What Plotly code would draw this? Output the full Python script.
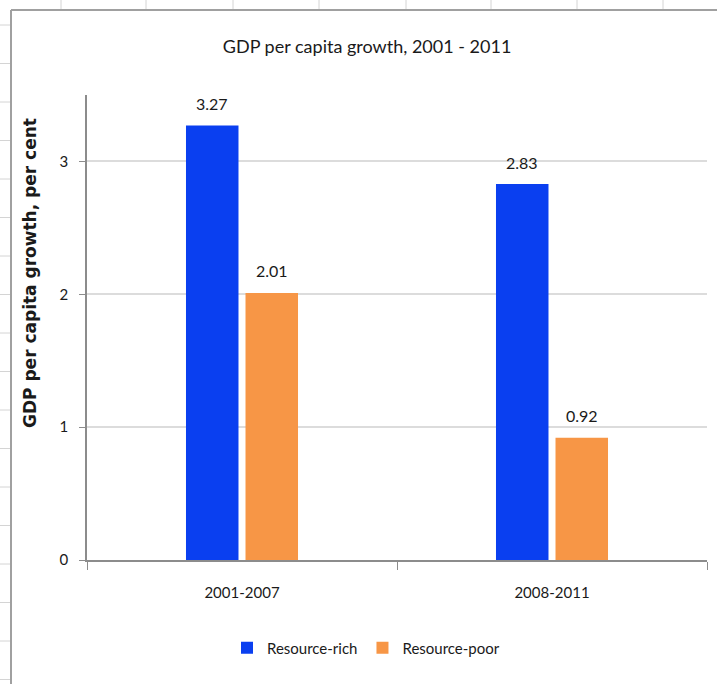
import plotly.graph_objects as go

# data
periods = ["2001-2007", "2008-2011"]
resource_rich = [3.27, 2.83]
resource_poor = [2.01, 0.92]
series_names = ["Resource-rich", "Resource-poor"]
y_ticks = [0, 1, 2, 3]

W, H = 717, 684
L, R, T, B = 87, 10, 95, 124
pw, ph = W - L - R, H - T - B


def px_x(x):
    # pixel -> paper x
    return (x - L) / pw


def px_y(y):
    # pixel -> paper y
    return (H - B - y) / ph


fig = go.Figure()
fig.add_trace(go.Bar(x=periods, y=resource_rich, name=series_names[0],
                     marker=dict(color="#0a3ff0", line=dict(width=0))))
fig.add_trace(go.Bar(x=periods, y=resource_poor, name=series_names[1],
                     marker=dict(color="#f79646", line=dict(width=0))))

# value labels above the bars
for vals, shift in [(resource_rich, -30), (resource_poor, 30)]:
    for p, v in zip(periods, vals):
        fig.add_annotation(x=p, y=v, text=f"{v:.2f}", showarrow=False,
                           xshift=shift, yshift=22, yanchor="middle",
                           font=dict(family="Lato", size=16, color="#1a1a1a"))

# y axis title, placed like the original (not centred on the axis)
fig.add_annotation(xref="paper", yref="paper", x=px_x(30), y=px_y(273),
                   text="<b>GDP per capita growth, per cent</b>", textangle=-90,
                   showarrow=False, xanchor="center", yanchor="middle",
                   font=dict(family="DejaVu Sans", size=17, color="#1a1a1a"))

# spreadsheet background: cell lines + chart frame
shapes = []
for x in [61, 146, 233, 319, 406, 491, 577, 663]:
    shapes.append(dict(type="line", xref="paper", yref="paper",
                       x0=px_x(x), x1=px_x(x), y0=px_y(0), y1=px_y(10),
                       line=dict(color="#d4d4d4", width=1)))
for k in range(18):
    y = 25 + 38.5 * k
    shapes.append(dict(type="line", xref="paper", yref="paper",
                       x0=px_x(0), x1=px_x(11), y0=px_y(y), y1=px_y(y),
                       line=dict(color="#d4d4d4", width=1)))
shapes.append(dict(type="line", xref="paper", yref="paper",
                   x0=px_x(11), x1=px_x(717), y0=px_y(10), y1=px_y(10),
                   line=dict(color="#a0a0a0", width=2)))
shapes.append(dict(type="line", xref="paper", yref="paper",
                   x0=px_x(11), x1=px_x(11), y0=px_y(10), y1=px_y(684),
                   line=dict(color="#a0a0a0", width=2)))

fig.update_layout(
    width=W, height=H,
    margin=dict(l=L, r=R, t=T, b=B),
    paper_bgcolor="white", plot_bgcolor="white",
    barmode="group", bargap=0.616, bargroupgap=0.118,
    title=dict(text="GDP per capita growth, 2001 - 2011", x=0.512, xanchor="center",
               y=1 - 47 / H, yanchor="middle",
               font=dict(family="Lato", size=18, color="#1a1a1a")),
    font=dict(family="Lato", size=15, color="#1a1a1a"),
    legend=dict(orientation="h", x=px_x(366), y=px_y(648), xanchor="center",
                yanchor="middle", font=dict(family="Lato", size=15, color="#1a1a1a"),
                itemwidth=30, bgcolor="rgba(0,0,0,0)"),
    shapes=shapes,
    xaxis=dict(showline=True, linecolor="#8c8c8c", linewidth=1.5,
               ticks="outside", tickson="boundaries", ticklen=8, tickcolor="#8c8c8c",
               ticklabelstandoff=18, tickfont=dict(family="Lato", size=15, color="#1a1a1a"),
               showgrid=False, fixedrange=True),
    yaxis=dict(range=[0, 3.5], tickvals=y_ticks, showline=True, linecolor="#8c8c8c",
               linewidth=1.5, ticks="outside", ticklen=6, tickcolor="#8c8c8c",
               ticklabelstandoff=8, showgrid=True, gridcolor="#dcdcdc", gridwidth=1.5,
               zeroline=False, tickfont=dict(family="Lato", size=15, color="#1a1a1a")),
)

# page body has an 8px default margin; drop it so the figure sits at 0,0
fig.write_html("out.html", config={"displayModeBar": False},
               post_script="document.body.style.margin='0';")
